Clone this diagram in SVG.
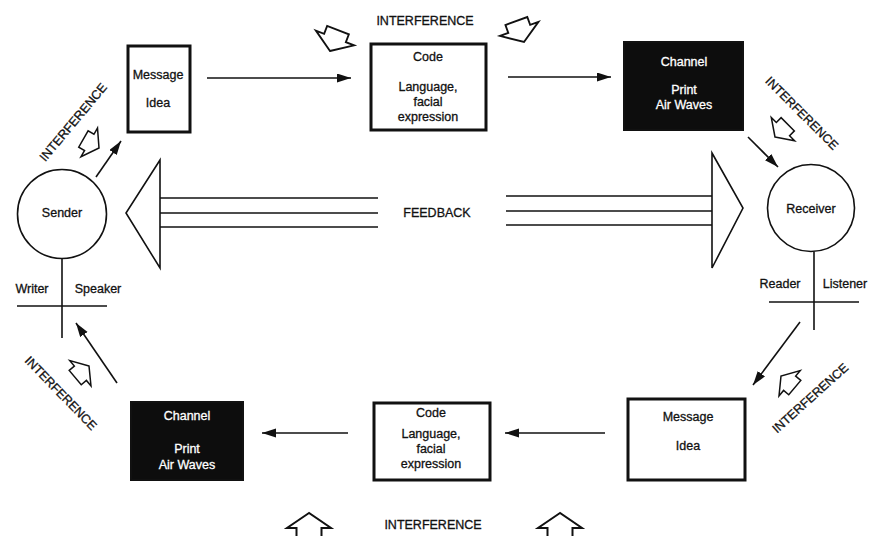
<svg xmlns="http://www.w3.org/2000/svg" xmlns:xlink="http://www.w3.org/1999/xlink" width="871" height="536" viewBox="0 0 871 536">
<style>
text{font-family:"Liberation Sans",Arial,sans-serif;font-size:12.5px;fill:#111;stroke:#111;stroke-width:0.3;text-anchor:middle}
.w{fill:#fff;stroke:#fff}
.box{fill:#fff;stroke:#111;stroke-width:3}
.dark{fill:#0d0d0d;stroke:#111;stroke-width:2}
.ln{stroke:#111;stroke-width:1.6;fill:none}
.con{stroke:#111;stroke-width:1.6;fill:none;marker-end:url(#ah)}
.intf{fill:#fff;stroke:#111;stroke-width:2;stroke-linejoin:miter}
.fb{fill:none;stroke:#111;stroke-width:1.6;stroke-linejoin:miter}
</style>
<defs>
<marker id="ah" markerUnits="userSpaceOnUse" markerWidth="15" markerHeight="10" refX="14" refY="4.5" orient="auto">
<path d="M0,0 L14,4.5 L0,9 Z" fill="#111"/>
</marker>
<path id="ia" d="M0,0 L-15,-22 L-15,-12.5 L-24,-12.5 L-24,12.5 L-15,12.5 L-15,22 Z"/>
</defs>
<rect width="871" height="536" fill="#fff"/>

<g id="sender">
<circle cx="62" cy="214" r="44.5" class="ln"/>
<text x="62" y="216.5">Sender</text>
<line x1="62" y1="258.5" x2="62" y2="338" class="ln"/>
<line x1="17" y1="306" x2="107" y2="306" class="ln"/>
<text x="32" y="293">Writer</text>
<text x="98" y="293">Speaker</text>
</g>

<g id="receiver">
<circle cx="811" cy="208" r="43.5" class="ln"/>
<text x="811" y="212.5">Receiver</text>
<line x1="814" y1="251.5" x2="814" y2="330" class="ln"/>
<line x1="769" y1="302" x2="859" y2="302" class="ln"/>
<text x="780" y="288">Reader</text>
<text x="845" y="288">Listener</text>
</g>

<g id="message-top">
<rect x="128" y="46" width="62" height="86" class="box"/>
<text x="158" y="79">Message</text>
<text x="158" y="107">Idea</text>
</g>

<g id="code-top">
<rect x="371" y="44" width="115" height="86" class="box"/>
<text x="428" y="61">Code</text>
<text x="428" y="91">Language,</text>
<text x="428" y="106">facial</text>
<text x="428" y="121">expression</text>
</g>

<g id="channel-top">
<rect x="624" y="42" width="119" height="88" class="dark"/>
<text x="684" y="66" class="w">Channel</text>
<text x="684" y="94" class="w">Print</text>
<text x="684" y="109" class="w">Air Waves</text>
</g>

<g id="message-bottom">
<rect x="628" y="399" width="117" height="81" class="box"/>
<text x="688" y="421">Message</text>
<text x="688" y="450">Idea</text>
</g>

<g id="code-bottom">
<rect x="374" y="403" width="116" height="77" class="box"/>
<text x="431" y="417">Code</text>
<text x="431" y="438">Language,</text>
<text x="431" y="453">facial</text>
<text x="431" y="468">expression</text>
</g>

<g id="channel-bottom">
<rect x="131" y="402" width="112" height="78" class="dark"/>
<text x="187" y="420" class="w">Channel</text>
<text x="187" y="453" class="w">Print</text>
<text x="187" y="469" class="w">Air Waves</text>
</g>

<g id="feedback">
<path d="M160,160 L126,213 L160,268 Z" class="fb"/>
<line x1="160" y1="198" x2="378" y2="198" class="ln"/>
<line x1="160" y1="213" x2="378" y2="213" class="ln"/>
<line x1="160" y1="227" x2="378" y2="227" class="ln"/>
<path d="M712,153 L743,208 L712,268 Z" class="fb"/>
<line x1="506" y1="196" x2="712" y2="196" class="ln"/>
<line x1="506" y1="211" x2="712" y2="211" class="ln"/>
<line x1="506" y1="225" x2="712" y2="225" class="ln"/>
<text x="437" y="216.5">FEEDBACK</text>
</g>

<g id="connectors">
<line x1="96" y1="177" x2="121" y2="141" class="con"/>
<line x1="207" y1="78" x2="351" y2="78" class="con"/>
<line x1="508" y1="77" x2="611" y2="77" class="con"/>
<line x1="748" y1="137" x2="778" y2="167" class="con"/>
<line x1="800" y1="322" x2="753" y2="385" class="con"/>
<line x1="605" y1="433" x2="505" y2="433" class="con"/>
<line x1="348" y1="433" x2="262" y2="433" class="con"/>
<line x1="117" y1="383" x2="76" y2="323" class="con"/>
</g>

<g id="interference">
<use href="#ia" class="intf" transform="translate(330,51) rotate(111) scale(0.93)"/>
<use href="#ia" class="intf" transform="translate(524,42) rotate(70) scale(0.93)"/>
<use href="#ia" class="intf" transform="translate(99,148) rotate(30) scale(0.75)"/>
<use href="#ia" class="intf" transform="translate(775,137) rotate(135) scale(0.75)"/>
<use href="#ia" class="intf" transform="translate(89,366) rotate(-40) scale(0.75)"/>
<use href="#ia" class="intf" transform="translate(781,376) rotate(-140) scale(0.75)"/>
<use href="#ia" class="intf" transform="translate(309,513) rotate(-90)"/>
<use href="#ia" class="intf" transform="translate(560,513) rotate(-90)"/>
<text x="425" y="25">INTERFERENCE</text>
<text x="433" y="529">INTERFERENCE</text>
<text transform="translate(73,122) rotate(-50)" y="4.5">INTERFERENCE</text>
<text transform="translate(802,113) rotate(45)" y="4.5">INTERFERENCE</text>
<text transform="translate(61,393) rotate(46)" y="4.5">INTERFERENCE</text>
<text transform="translate(810,398) rotate(-42)" y="4.5">INTERFERENCE</text>
</g>
</svg>
